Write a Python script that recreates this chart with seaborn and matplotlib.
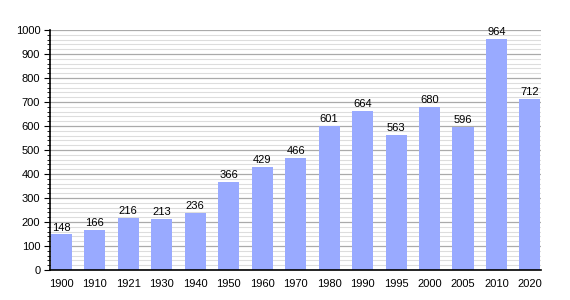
import matplotlib
matplotlib.use("Agg")
import matplotlib.pyplot as plt
import seaborn as sns
import pandas as pd
from matplotlib.ticker import MultipleLocator

years = ["1900", "1910", "1921", "1930", "1940", "1950", "1960", "1970", "1980",
         "1990", "1995", "2000", "2005", "2010", "2020"]
population = [148, 166, 216, 213, 236, 366, 429, 466, 601, 664, 563, 680, 596, 964, 712]

sns.set_style("white")
plt.rcParams['font.family'] = ['Liberation Sans', 'DejaVu Sans']
plt.rcParams['text.color'] = 'black'
plt.rcParams['xtick.color'] = 'black'
plt.rcParams['ytick.color'] = 'black'

df = pd.DataFrame({"year": years, "pop": population})
fig = plt.figure(figsize=(5.7, 3.0), dpi=100)
ax = fig.add_axes([0.0877, 0.1, 0.862, 0.8])

sns.barplot(data=df, x="year", y="pop", color="#99aaff", saturation=1, width=0.63,
            edgecolor="none", linewidth=0, ax=ax, zorder=3)

ax.set_ylim(0, 1000)
ax.set_xlim(-0.34, len(years) - 1 + 0.34)
ax.yaxis.set_major_locator(MultipleLocator(100))
ax.yaxis.set_minor_locator(MultipleLocator(20))
ax.grid(which="major", axis="y", color="#aaaaaa", lw=0.9, zorder=0)
ax.grid(which="minor", axis="y", color="#dddddd", lw=0.8, zorder=0)
ax.set_axisbelow(True)
for s in ["top", "right"]:
    ax.spines[s].set_visible(False)
ax.spines["left"].set_color("black")
ax.spines["bottom"].set_color("black")
ax.spines["left"].set_linewidth(1.2)
ax.spines["bottom"].set_linewidth(1.2)
ax.spines["bottom"].set_zorder(5)
ax.tick_params(axis="y", which="major", left=True, length=4, width=0.8, labelsize=8, pad=3)
ax.tick_params(axis="y", which="minor", left=True, length=2, width=0.6)
ax.tick_params(axis="x", bottom=False, labelsize=8, pad=3)
ax.set_xlabel("")
ax.set_ylabel("")

for i, v in enumerate(population):
    ax.text(i, v + 8, str(v), ha="center", va="bottom", fontsize=8, color="black", zorder=4)

fig.savefig("out.png", dpi=100)
